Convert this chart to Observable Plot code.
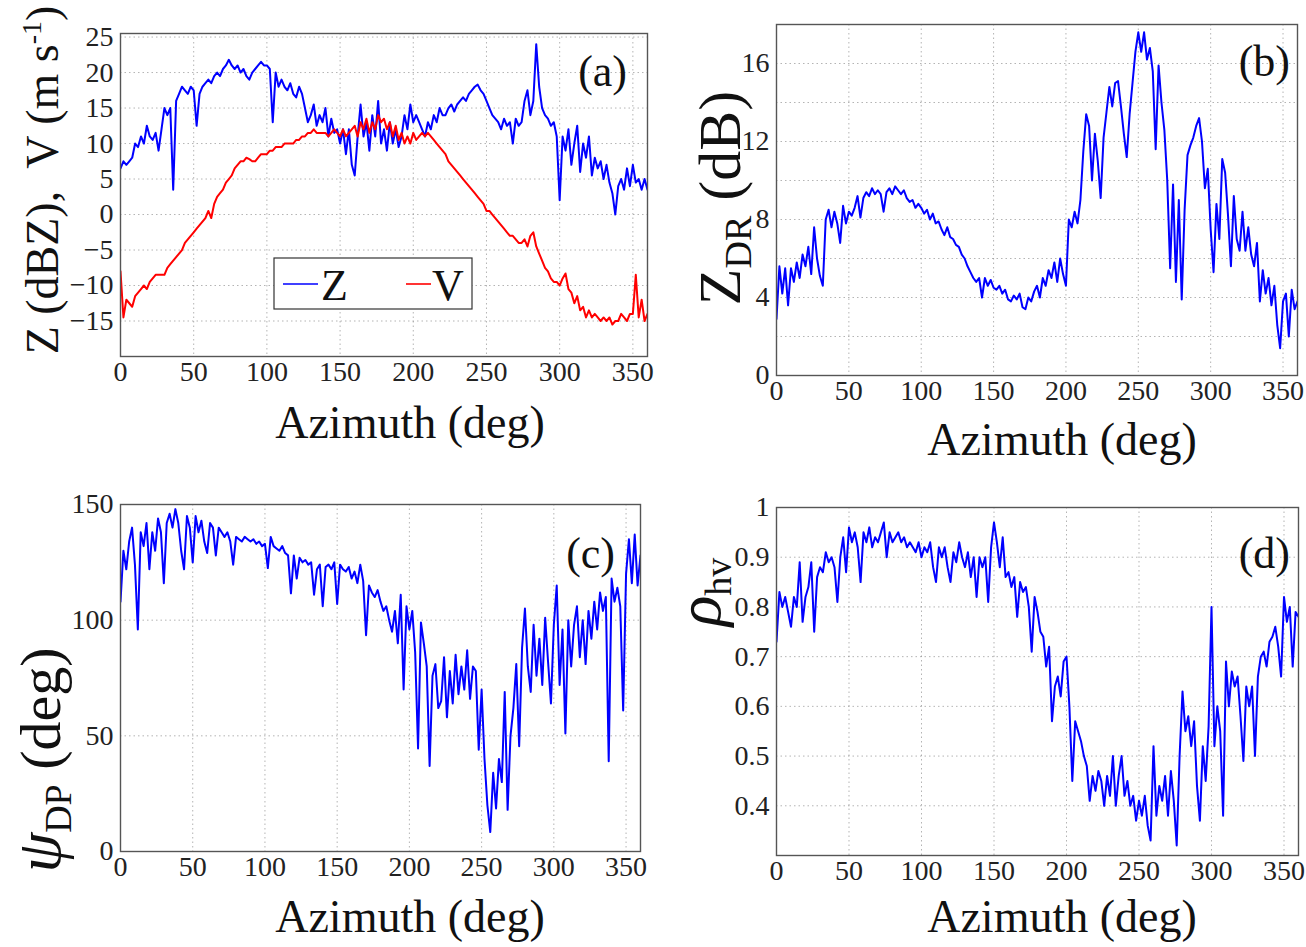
<!DOCTYPE html>
<html>
<head>
<meta charset="utf-8">
<script src="https://cdn.jsdelivr.net/npm/d3@7"></script>
<script src="https://cdn.jsdelivr.net/npm/@observablehq/plot@0.6"></script>
<style>
  html, body { margin: 0; padding: 0; background: #fff; }
  body { width: 1306px; height: 947px; position: relative; overflow: hidden;
         font-family: "Liberation Serif", "Times New Roman", serif; }
  .panel { position: absolute; }
  .panel svg text { font-family: "Liberation Serif", "Times New Roman", serif !important; }
</style>
</head>
<body>
<div id="pa" class="panel" style="left:0px;top:0px"></div>
<div id="pb" class="panel" style="left:650px;top:0px"></div>
<div id="pc" class="panel" style="left:0px;top:480px"></div>
<div id="pd" class="panel" style="left:650px;top:480px"></div>
<script>
// ---------------- data (azimuth sampled every 2 deg, 0..360) ----------------
const azimuth = d3.range(0, 361, 2);
const xTicks = [0, 50, 100, 150, 200, 250, 300, 350];

// (a) reflectivity Z (dBZ)
const zRefl = [
  6.5, 7.5, 7, 7.5, 8, 10, 9.5, 11, 10, 12.5,
  11, 10.5, 11.5, 9, 12, 15, 14, 15, 3.5, 16,
  17, 18, 17.5, 17, 18, 17.5, 12.5, 17, 18, 18.5,
  19, 18.5, 19.5, 20, 19.5, 20.5, 21, 21.8, 21, 20.5,
  21, 20, 20.5, 19.5, 19, 20, 20.5, 21, 21.5, 21,
  21, 20.5, 13, 20, 18, 19, 18, 17.5, 18.5, 17,
  16.5, 18, 17, 15, 13, 14, 15.5, 12.5, 14, 13,
  15, 11, 13.5, 11.5, 12, 10, 12, 8.5, 12, 7,
  5.5, 11, 15.5, 11, 13, 9, 14, 11, 16, 10,
  12, 9, 13, 10, 12, 9.5, 11, 14, 12, 15.5,
  13, 14, 13, 12, 11, 13, 12, 14, 13, 15,
  14, 14, 15, 15.5, 14.5, 15.5, 16, 16.5, 16, 17,
  17.5, 18, 18.3, 17.5, 17, 16, 15, 14, 13.5, 13,
  12, 13.5, 12.5, 13, 10, 13.5, 12.5, 13, 16, 17.5,
  14, 16, 24, 18, 15, 14, 13.5, 12.5, 13, 11,
  2, 11, 9, 12, 7, 10, 12.5, 6, 10, 8,
  11, 5.5, 8, 6.5, 7.5, 5, 7, 4.5, 3, 0,
  4, 5, 3.5, 6.5, 4, 7, 4.5, 5, 3.5, 5,
  3.5
];

// (a) radial velocity V (m/s)
const vRad = [
  -8, -14.5, -12, -12.5, -13, -11.5, -11, -10.5, -10, -10.5,
  -9.5, -9, -8.5, -8.5, -8.5, -8.5, -7.5, -7, -6.5, -6,
  -5.5, -5, -4, -3.5, -3, -2.5, -2, -1.5, -1, -0.5,
  0.5, -0.5, 1.5, 2.5, 3, 3.5, 4.5, 5, 5.5, 6.5,
  7, 7.5, 7.5, 8, 7.8, 7.5, 7.5, 8, 8.5, 8.5,
  8.5, 9, 9, 9.5, 9.5, 9.5, 10, 10, 10, 10,
  10.5, 10.5, 11, 11, 11.5, 11.5, 12, 11.5, 11.5, 11.5,
  11.5, 11, 11.5, 12, 11.5, 11, 12, 11, 11.5, 12,
  12.5, 11, 13, 12, 13.5, 11.5, 13, 12, 14, 13,
  13.5, 12, 13, 11, 12.5, 10.5, 11.5, 10, 11, 10,
  11.5, 10.5, 11, 11.5, 11, 11.5, 11, 10.5, 10, 9.5,
  9, 8.5, 7.5, 7, 6.5, 6, 5.5, 5, 4.5, 4,
  3.5, 3, 2.5, 2, 1.5, 0.5, 0.5, 0, -0.5, -1,
  -1.5, -2, -2.5, -3, -3, -3.5, -4, -4, -3.5, -4.5,
  -3, -2.5, -4.5, -5.5, -6.5, -7.5, -8, -9, -9.5, -9.5,
  -10, -9, -8.3, -10.5, -11, -12.5, -11.5, -13.5, -13, -14.5,
  -13.5, -14.5, -14, -14.5, -15, -14.5, -15, -14.5, -15.5, -15,
  -15, -14, -14.5, -15, -14, -14, -8.5, -14.5, -12, -15,
  -14
];

// (b) differential reflectivity ZDR (dB)
const zdr = [
  2.9, 5.6, 4.2, 5.5, 3.6, 5.5, 4.8, 5.8, 5, 6.2,
  5.6, 6.6, 5.2, 7.6, 6, 5.1, 4.6, 8, 8.5, 7.6,
  8.4, 7.8, 6.8, 8.7, 7.8, 8.4, 8.2, 8.6, 9.2, 8.1,
  9.1, 9.4, 9.2, 9.6, 9.3, 9.5, 9.3, 8.4, 9.4, 9.6,
  9.3, 9.7, 9.5, 9.3, 9.5, 9.1, 8.9, 9, 8.6, 8.8,
  8.6, 8.3, 8.5, 8, 8.3, 7.8, 7.9, 7.5, 7.2, 7.6,
  7.1, 7, 6.7, 6.6, 6.2, 6, 5.6, 5.3, 5, 4.8,
  5, 4, 5, 4.6, 4.9, 4.5, 4.4, 4.6, 4.2, 4.4,
  3.9, 3.8, 4.1, 3.9, 4.2, 3.5, 3.4, 4, 3.8, 4.3,
  4.6, 4, 5, 4.6, 5.4, 5, 5.8, 4.8, 6, 5.2,
  4.6, 8, 7.6, 8.4, 7.8, 9, 11.5, 13.4, 12.8, 10,
  12.4, 11, 9.1, 12.2, 13.5, 14.8, 13.8, 15, 15.1, 13.8,
  12.4, 11.2, 13.4, 15, 16.6, 17.6, 16.6, 17.6, 16.2, 16.8,
  15.6, 11.6, 15.9, 14, 12.6, 10, 5.5, 9.8, 4.8, 9,
  3.9, 8.5, 11.3, 11.8, 12.2, 12.8, 13.2, 12, 9.6, 10.6,
  7.5, 5.3, 8.8, 7, 11.1, 10.4, 8.2, 5.6, 9.2, 7,
  6.4, 8.4, 6.4, 7.6, 6.2, 5.6, 6.8, 3.8, 5.4, 4.2,
  5, 3.6, 4.6, 2.6, 1.4, 3.8, 4.2, 2, 4.4, 3.4,
  3.8
];

// (c) differential phase psiDP (deg)
const psiDP = [
  108, 130, 122, 134, 140, 124, 96, 138, 132, 142,
  122, 138, 130, 144, 138, 116, 142, 146, 140, 148,
  142, 130, 122, 145, 140, 125, 145, 138, 143, 134,
  129, 142, 140, 128, 140, 138, 136, 138, 134, 124,
  136, 135, 134, 136, 135, 134, 135, 133, 134, 132,
  133, 122.5, 136, 132, 131, 130, 132, 129, 128, 111.6,
  128, 118, 127, 125, 126, 124, 125, 111, 122, 124,
  106, 123, 124, 122, 125, 107, 124, 122, 121, 123,
  118, 121, 116, 124, 117, 93.5, 115, 112, 110, 113,
  108, 104, 106, 100, 95, 104, 90, 111, 70, 106,
  96, 104, 86, 44.5, 99, 90, 80, 37, 76, 81,
  62, 65, 84, 58, 78, 64, 85, 68, 80, 70,
  87, 66, 80, 78, 44, 70, 40, 20, 8.4, 34,
  18.6, 40, 30, 69, 18, 50, 62, 81, 45.5, 88,
  105, 80, 69, 98, 76, 92, 72, 101, 82, 64,
  98, 115, 72, 96, 51, 100, 80, 98, 106, 84,
  100, 81, 104, 92, 108, 96, 112, 104, 110, 39,
  118, 108, 114, 106, 61, 120, 135, 116, 137, 115,
  128
];

// (d) co-polar correlation coefficient rho_hv
const rhoHV = [
  0.73, 0.83, 0.8, 0.82, 0.79, 0.76, 0.82, 0.8, 0.89, 0.77,
  0.82, 0.84, 0.89, 0.75, 0.86, 0.88, 0.87, 0.91, 0.89, 0.9,
  0.88, 0.81, 0.9, 0.94, 0.87, 0.96, 0.93, 0.95, 0.92, 0.85,
  0.95, 0.93, 0.96, 0.92, 0.94, 0.93, 0.95, 0.97, 0.9, 0.95,
  0.93, 0.94, 0.95, 0.93, 0.94, 0.92, 0.93, 0.92, 0.91, 0.93,
  0.9, 0.92, 0.91, 0.93, 0.88, 0.85, 0.92, 0.9, 0.92, 0.88,
  0.85, 0.91, 0.89, 0.93, 0.9, 0.88, 0.91, 0.86, 0.9, 0.82,
  0.9, 0.88, 0.9, 0.81, 0.92, 0.97, 0.93, 0.88, 0.94, 0.86,
  0.87, 0.84, 0.86, 0.78, 0.85, 0.83, 0.84, 0.8, 0.71, 0.82,
  0.79, 0.75, 0.74, 0.68, 0.72, 0.57, 0.64, 0.66, 0.62, 0.69,
  0.7, 0.6, 0.45, 0.57, 0.55, 0.53, 0.5, 0.48, 0.41, 0.46,
  0.43, 0.47, 0.45, 0.4, 0.46, 0.42, 0.5, 0.4, 0.46, 0.5,
  0.42, 0.45, 0.4, 0.42, 0.37, 0.41, 0.38, 0.42, 0.36, 0.33,
  0.52, 0.38, 0.44, 0.41, 0.46, 0.38, 0.47, 0.41, 0.32, 0.5,
  0.63, 0.55, 0.58, 0.52, 0.57, 0.44, 0.37, 0.52, 0.45, 0.56,
  0.8, 0.52, 0.6, 0.55, 0.38, 0.69, 0.6, 0.67, 0.64, 0.66,
  0.58, 0.49, 0.64, 0.6, 0.64, 0.5, 0.66, 0.7, 0.71, 0.68,
  0.73, 0.74, 0.76, 0.72, 0.66, 0.82, 0.77, 0.8, 0.68, 0.79,
  0.78
];

const zTicks = [-15, -10, -5, 0, 5, 10, 15, 20, 25];
const zdrTicks = [0, 4, 8, 12, 16];
const zdrGrid = [2, 4, 6, 8, 10, 12, 14, 16];
const psiTicks = [0, 50, 100, 150];
const rhoTicks = [0.4, 0.5, 0.6, 0.7, 0.8, 0.9, 1];

const BLUE = "#0000ff";
const RED = "#ff0000";
const FONT = "'Liberation Serif', 'Times New Roman', serif";

function toRows(values) { return azimuth.map((a, i) => ({az: a, v: values[i]})); }

function panel(cfg) {
  const gridStyle = {stroke: "#777", strokeOpacity: 0.55, strokeWidth: 1, strokeDasharray: "1.5,3"};
  const chart = Plot.plot({
    width: cfg.width, height: cfg.height,
    marginLeft: cfg.ml, marginRight: cfg.mr, marginTop: cfg.mt, marginBottom: cfg.mb,
    style: {fontFamily: FONT, fontSize: "28px", background: "transparent", color: "#222"},
    x: {domain: [0, 360], axis: null},
    y: {domain: cfg.yDomain, axis: null},
    marks: [
      Plot.gridX(xTicks.filter(t => t > 0), gridStyle),
      Plot.gridY(cfg.yGrid, gridStyle),
      ...cfg.series.map(s => Plot.lineY(toRows(s.values), {x: "az", y: "v", stroke: s.color, strokeWidth: 2, clip: true})),
      Plot.frame({stroke: "#555", strokeWidth: 1.4}),
      Plot.axisX(xTicks, {tickSize: 0, tickPadding: 5, fontSize: 28, fill: "#222", label: null}),
      Plot.axisY(cfg.yTicks, {tickSize: 0, tickPadding: 7, fontSize: 28, fill: "#222", label: null,
                               tickFormat: cfg.tickFormat})
    ]
  });
  const svg = d3.select(chart);
  // x-axis title
  svg.append("text")
    .attr("x", cfg.xLabelX).attr("y", cfg.xLabelY)
    .attr("text-anchor", "middle")
    .style("font-size", "46px").attr("fill", "#111")
    .text("Azimuth (deg)");
  // panel letter
  svg.append("text")
    .attr("x", cfg.tagX).attr("y", cfg.tagY)
    .attr("text-anchor", "end")
    .style("font-size", "44px").attr("fill", "#111")
    .text(cfg.tag);
  // y-axis title (rotated)
  const yl = svg.append("text")
    .attr("transform", `translate(${cfg.yLabelX},${cfg.yLabelY}) rotate(-90)`)
    .attr("text-anchor", "middle")
    .style("font-size", cfg.yLabelSize + "px").attr("fill", "#111");
  cfg.yLabel(yl);
  if (cfg.extra) cfg.extra(svg);
  svg.selectAll("text").style("font-family", FONT);
  document.getElementById(cfg.el).appendChild(chart);
}

// (a)
panel({
  el: "pa", width: 660, height: 470, ml: 120, mr: 13, mt: 33, mb: 114,
  yDomain: [-20, 25.5], yTicks: zTicks, yGrid: zTicks,
  series: [{values: zRefl, color: BLUE}, {values: vRad, color: RED}],
  xLabelX: 410, xLabelY: 438, tag: "(a)", tagX: 627, tagY: 86,
  yLabelX: 58, yLabelY: 180, yLabelSize: 46,
  yLabel: t => {
    t.append("tspan").text("Z (dBZ),\u00a0 V (m s");
    t.append("tspan").attr("dy", -17).style("font-size", "28px").text("-1");
    t.append("tspan").attr("dy", 17).text(")");
  },
  extra: svg => {
    const g = svg.append("g");
    g.append("rect").attr("x", 274).attr("y", 258).attr("width", 198).attr("height", 51)
      .attr("fill", "#fff").attr("stroke", "#333").attr("stroke-width", 1.2);
    g.append("line").attr("x1", 283).attr("x2", 318).attr("y1", 284).attr("y2", 284)
      .attr("stroke", BLUE).attr("stroke-width", 1.6);
    g.append("text").attr("x", 321).attr("y", 300).attr("text-anchor", "start").style("font-size", "44px")
      .attr("fill", "#111").text("Z");
    g.append("line").attr("x1", 406).attr("x2", 431).attr("y1", 284).attr("y2", 284)
      .attr("stroke", RED).attr("stroke-width", 1.6);
    g.append("text").attr("x", 432).attr("y", 300).attr("text-anchor", "start").style("font-size", "44px")
      .attr("fill", "#111").text("V");
  }
});

// (b)
panel({
  el: "pb", width: 656, height: 470, ml: 126, mr: 9, mt: 24, mb: 95,
  yDomain: [0, 18], yTicks: zdrTicks, yGrid: zdrGrid,
  series: [{values: zdr, color: BLUE}],
  xLabelX: 412, xLabelY: 455, tag: "(b)", tagX: 640, tagY: 76,
  yLabelX: 90, yLabelY: 198, yLabelSize: 60,
  yLabel: t => {
    t.append("tspan").text("Z");
    t.append("tspan").attr("dy", 11).style("font-size", "38px").text("DR");
    t.append("tspan").attr("dy", -11).text(" (dB)");
  }
});

// (c)
panel({
  el: "pc", width: 660, height: 467, ml: 120, mr: 20, mt: 24, mb: 96,
  yDomain: [0, 150], yTicks: psiTicks, yGrid: [50, 100],
  series: [{values: psiDP, color: BLUE}],
  xLabelX: 410, xLabelY: 452, tag: "(c)", tagX: 615, tagY: 88,
  yLabelX: 60, yLabelY: 280, yLabelSize: 58,
  yLabel: t => {
    t.append("tspan").style("font-style", "italic").style("font-size", "64px").text("ψ");
    t.append("tspan").attr("dy", 11).style("font-size", "38px").text("DP");
    t.append("tspan").attr("dy", -11).text(" (deg)");
  }
});

// (d)
panel({
  el: "pd", width: 656, height: 467, ml: 126, mr: 8, mt: 27, mb: 92,
  yDomain: [0.3, 1], yTicks: rhoTicks, yGrid: [0.4, 0.5, 0.6, 0.7, 0.8, 0.9],
  series: [{values: rhoHV, color: BLUE}],
  xLabelX: 412, xLabelY: 452, tag: "(d)", tagX: 640, tagY: 88,
  yLabelX: 70, yLabelY: 112, yLabelSize: 58,
  tickFormat: d => d === 1 ? "1" : d.toFixed(1),
  yLabel: t => {
    t.append("tspan").style("font-style", "italic").style("font-size", "64px").text("ρ");
    t.append("tspan").attr("dy", 11).style("font-size", "38px").text("hv");
  }
});
</script>
</body>
</html>
